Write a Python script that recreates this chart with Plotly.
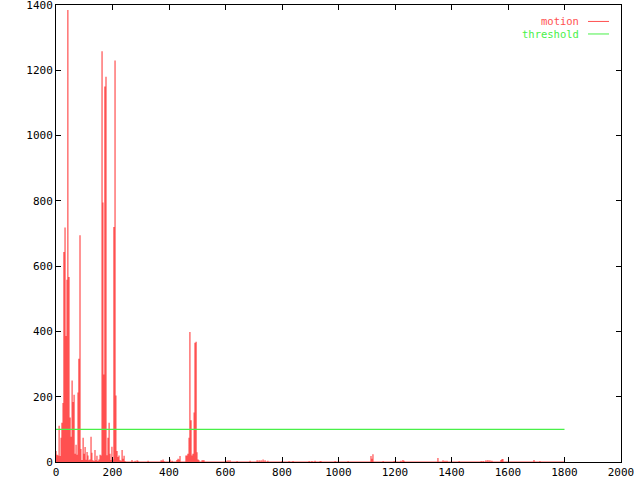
import plotly.graph_objects as go

# motion spikes (frame, value)
motion_x = [0, 4, 7, 11, 14, 18, 21, 25, 28, 32, 35, 39, 42, 46, 50, 53, 57, 60, 64, 67,
            71, 74, 78, 81, 85, 88, 92, 96, 99, 103, 106, 110, 113, 117, 120, 124, 127, 131, 135, 138,
            142, 145, 149, 152, 156, 159, 163, 166, 170, 173, 177, 181, 184, 188, 191, 195, 198, 202, 205, 209,
            212, 216, 219, 223, 227, 230, 234, 237, 241, 244,
            269, 280, 287, 290, 326, 372, 375, 379, 382, 404, 411, 428, 432, 435, 439,
            460, 464, 467, 471, 474, 478, 481, 485, 489, 492, 496, 499, 503, 506, 517, 520, 524,
            602, 609, 616, 641, 687, 712, 719, 726, 733, 740, 750, 800, 825, 839, 896, 906, 917, 935, 938,
            988, 1034, 1115, 1119, 1122, 1158, 1197, 1221, 1228, 1232, 1352, 1370, 1377, 1384, 1427,
            1505, 1512, 1522, 1529, 1536, 1543, 1575, 1579, 1582, 1692, 1713]
motion_y = [34, 22, 20, 111, 18, 74, 120, 181, 643, 718, 386, 558, 1385, 567, 136, 77, 250, 184, 206, 25,
            53, 22, 213, 316, 695, 40, 6, 74, 25, 46, 7, 31, 20, 5, 8, 77, 28, 5, 3, 37,
            5, 19, 3, 8, 22, 20, 1258, 795, 268, 1150, 1180, 21, 74, 120, 25, 6, 47, 8, 720, 1230,
            204, 34, 15, 20, 5, 4, 37, 10, 19, 3,
            6, 4, 5, 4, 4, 5, 4, 8, 3, 8, 4, 6, 10, 8, 18,
            20, 20, 25, 74, 398, 128, 20, 25, 152, 365, 368, 30, 8, 5, 5, 5, 5,
            4, 5, 5, 3, 4, 5, 5, 5, 8, 5, 4, 3, 3, 3, 3, 3, 4, 3, 3,
            3, 3, 18, 10, 24, 3, 3, 4, 6, 4, 12, 5, 4, 4, 3,
            3, 3, 5, 6, 5, 4, 6, 9, 9, 6, 3]
motion_end = 1800

threshold_x = [0, 1800]
threshold_y = [100, 100]

x_ticks = [0, 200, 400, 600, 800, 1000, 1200, 1400, 1600, 1800, 2000]
y_ticks = [0, 200, 400, 600, 800, 1000, 1200, 1400]

RED = "#ff5050"
GREEN = "#48f048"
FONT = "DejaVu Sans Mono"

# impulse path (gnuplot "with impulses")
px, py = [0], [0]
for x, y in zip(motion_x, motion_y):
    px += [x, x, x]
    py += [0, y, 0]
px.append(motion_end)
py.append(0)

fig = go.Figure()
fig.add_trace(go.Scatter(x=px, y=py, mode="lines", name="motion",
                         line=dict(color=RED, width=1.2), showlegend=False))
fig.add_trace(go.Scatter(x=threshold_x, y=threshold_y, mode="lines", name="threshold",
                         line=dict(color=GREEN, width=1.3), showlegend=False))

axis_common = dict(showgrid=False, zeroline=False, showline=True, linecolor="black",
                   linewidth=1, mirror="ticks", ticks="inside", ticklen=5,
                   tickcolor="black", tickwidth=1, automargin=False,
                   ticklabeloverflow="allow",
                   tickfont=dict(family=FONT, size=11, color="black"))
fig.update_xaxes(range=[0, 2000], tickvals=x_ticks, ticktext=[str(v) for v in x_ticks],
                 **axis_common)
fig.update_yaxes(range=[0, 1400], tickvals=y_ticks, ticktext=[str(v) for v in y_ticks],
                 **axis_common)

# gnuplot-style legend: text right-aligned, sample line to its right
legend_items = [("motion", RED), ("threshold", GREEN)]
for i, (name, col) in enumerate(legend_items):
    yy = 0.964 - i * 0.0274
    fig.add_annotation(x=0.9274, y=yy, xref="paper", yref="paper", text=name,
                       showarrow=False, xanchor="right", yanchor="middle",
                       borderpad=0, font=dict(family=FONT, size=10.5, color=col))
    fig.add_shape(type="line", xref="paper", yref="paper", x0=0.9416, x1=0.9788,
                  y0=yy, y1=yy, line=dict(color=col, width=1))

fig.update_layout(width=640, height=480, margin=dict(l=56, r=19, t=5, b=18),
                  plot_bgcolor="white", paper_bgcolor="white", showlegend=False)

fig.write_html("out.html", config={"displayModeBar": False},
               post_script="document.body.style.margin='0';")
